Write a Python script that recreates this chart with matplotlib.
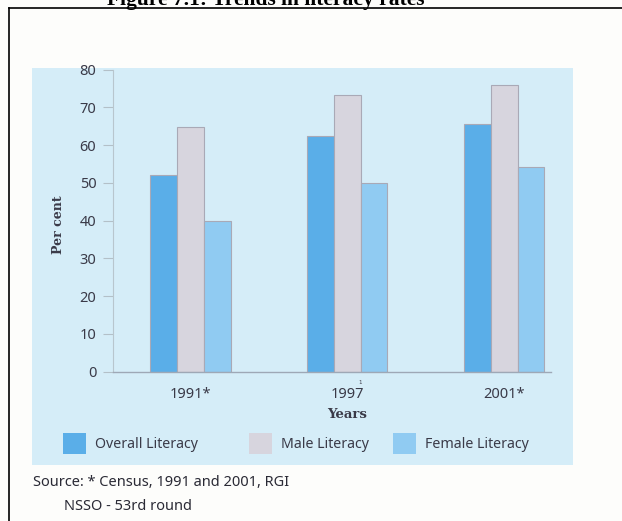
import matplotlib
matplotlib.use("Agg")
import matplotlib.pyplot as plt
from matplotlib.patches import Rectangle
from matplotlib.lines import Line2D
import numpy as np

# ---- data ----
years = ["1991*", "1997", "2001*"]
series = ["Overall Literacy", "Male Literacy", "Female Literacy"]
overall = [52.2, 62.3, 65.6]
male = [64.8, 73.2, 76.0]
female = [40.0, 50.0, 54.2]
yticks = [0, 10, 20, 30, 40, 50, 60, 70, 80]
title = "Figure 7.1: Trends in literacy rates"
source1 = "Source: * Census, 1991 and 2001, RGI"
source2 = "NSSO - 53rd round"

colors = ["#5aaee8", "#d7d5de", "#90cbf2"]
edge = "#a9a9b6"
txt = "#3a3a48"
sans = ["Noto Sans", "DejaVu Sans"]

W, H = 622, 521
fig = plt.figure(figsize=(W / 100, H / 100), dpi=100)
fig.patch.set_facecolor("#fdfdfb")

def fx(px):
    return px / W

def fy(py):
    return 1 - py / H

# light blue panel
fig.add_artist(Rectangle((fx(32), fy(465)), fx(573) - fx(32), fy(68) - fy(465),
                         transform=fig.transFigure, facecolor="#d5edf8",
                         edgecolor="none", zorder=0))
# black frame (left + top, running off the page)
fig.add_artist(Line2D([fx(8.5), fx(8.5)], [fy(8), fy(530)], transform=fig.transFigure,
                      color="black", lw=1.2))
fig.add_artist(Line2D([fx(8.5), fx(640)], [fy(8), fy(8)], transform=fig.transFigure,
                      color="black", lw=1.2))

# title (cut at top edge, as in the scanned page)
fig.text(fx(266), fy(5), title, ha="center", va="baseline",
         family=["Liberation Serif"], weight="bold", fontsize=15.5, color="black")

# axes
ax = fig.add_axes([fx(113), fy(371.7), fx(551) - fx(113), (371.7 - 69.5) / H])
ax.set_facecolor("none")
x = np.arange(len(years))
w = 0.171
for i, (vals, c) in enumerate(zip([overall, male, female], colors)):
    ax.bar(x + (i - 1) * w, vals, width=w, color=c, edgecolor=edge, linewidth=0.8,
           zorder=2, label=series[i])

ax.set_xlim(-0.492, 2.298)
ax.set_ylim(0, 80)
ax.set_yticks(yticks)
ax.set_yticklabels([str(t) for t in yticks], family=sans, fontsize=10.5, color=txt)
ax.set_xticks(x)
ax.set_xticklabels(years, family=sans, fontsize=10.5, color=txt)
ax.tick_params(axis="y", direction="out", length=7, width=0.8, color="#b3c0c8", pad=5)
ax.tick_params(axis="x", length=0, pad=11)
for s in ["top", "right"]:
    ax.spines[s].set_visible(False)
ax.spines["left"].set_color("#b8c6ce")
ax.spines["left"].set_linewidth(0.8)
ax.spines["bottom"].set_color("#9ea8b6")
ax.spines["bottom"].set_linewidth(1.0)

# small reference mark above 1997
fig.text(fx(360), fy(383), "1", fontsize=4, color=txt, ha="center", va="center")

# axis titles
fig.text(fx(347), fy(414), "Years", ha="center", va="center",
         family=["DejaVu Serif"], weight="bold", fontsize=9.5, color=txt)
fig.text(fx(59), fy(225), "Per cent", ha="center", va="center", rotation=90,
         family=["DejaVu Serif"], weight="bold", fontsize=9, color=txt)

# legend
leg_x = [63, 249, 393]
for lx, lab, c in zip(leg_x, series, colors):
    fig.add_artist(Rectangle((fx(lx), fy(454)), fx(23), 21 / H, transform=fig.transFigure,
                             facecolor=c, edgecolor="none"))
    fig.text(fx(lx + 32), fy(445), lab, ha="left", va="center", family=sans,
             fontsize=10.2, color=txt)

# source
fig.text(fx(33), fy(483), source1, ha="left", va="center", family=sans,
         fontsize=10.5, color="#2a2a35")
fig.text(fx(64), fy(507), source2, ha="left", va="center", family=sans,
         fontsize=10.5, color="#2a2a35")

fig.savefig("out.png", dpi=100, facecolor=fig.get_facecolor())
